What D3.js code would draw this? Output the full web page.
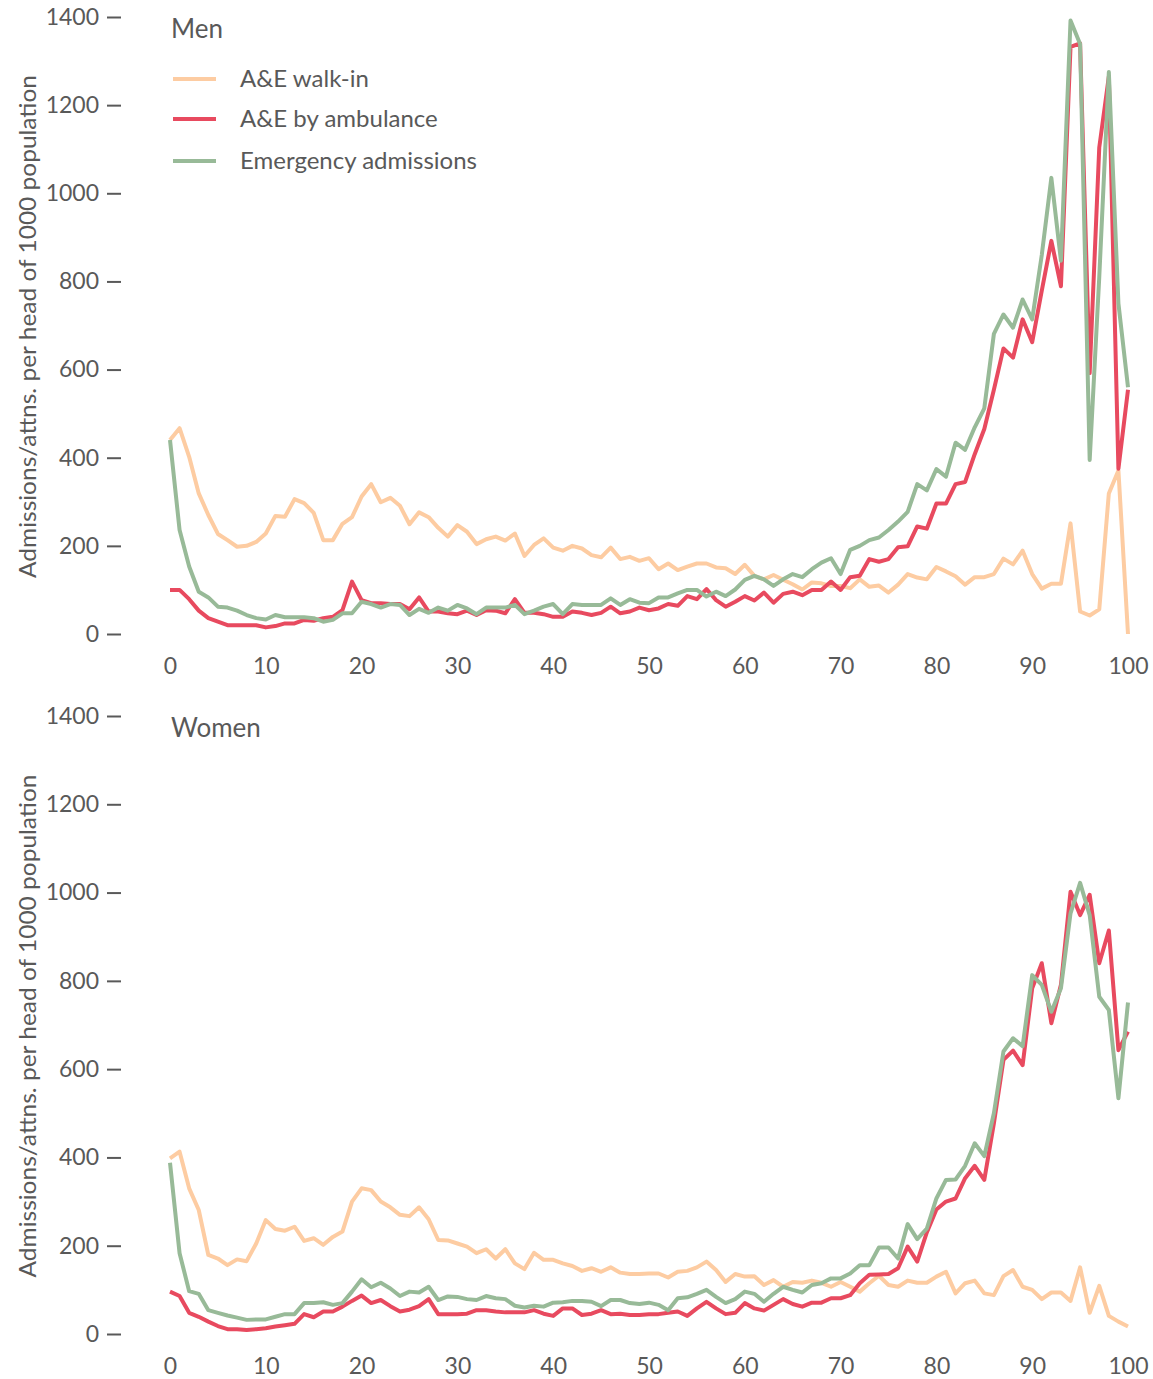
<!DOCTYPE html>
<html>
<head>
<meta charset="utf-8">
<script src="https://cdn.jsdelivr.net/npm/d3@7"></script>
<style>
  html, body { margin: 0; padding: 0; background: #ffffff; }
  svg { display: block; }
  text { font-family: Lato, "Open Sans", sans-serif; fill: #595959; }
</style>
</head>
<body>
<script>
// Ages 0..100
const ages = d3.range(0, 101);

const seriesNames = ["A&E walk-in", "A&E by ambulance", "Emergency admissions"];
const panelTitles = ["Men", "Women"];
const yTicks = [0, 200, 400, 600, 800, 1000, 1200, 1400];
const xTicks = [0, 10, 20, 30, 40, 50, 60, 70, 80, 90, 100];
const yTitle = "Admissions/attns. per head of 1000 population";

// Men: rates per 1000 population by single year of age
const menWalkIn = [440,467,402,319,270,227,213,198,200,209,228,268,266,306,297,275,213,213,250,265,
  312,340,299,309,291,249,276,265,241,221,247,232,204,215,221,212,228,177,202,217,
  196,189,200,194,179,174,196,170,175,166,172,147,160,145,153,160,160,151,149,136,
  157,132,124,134,123,113,101,117,115,109,109,104,124,107,110,94,112,136,128,124,
  152,142,131,112,129,129,136,171,158,189,136,103,114,114,251,51,42,56,319,371,0];
const menAmbulance = [100,100,79,53,36,28,20,20,20,20,15,18,24,24,32,30,36,39,54,119,
  77,70,70,68,68,56,83,51,51,47,45,53,43,54,53,47,79,48,48,45,
  39,39,51,48,43,48,62,47,51,60,54,58,68,64,86,79,102,77,62,73,
  86,76,94,71,91,96,88,100,100,119,100,129,132,170,164,170,197,199,244,239,
  296,296,340,345,408,465,554,648,627,714,662,779,892,789,1332,1340,592,1104,1265,375,554];
const menAdmissions = [440,236,153,96,83,62,60,53,43,36,33,43,38,38,38,36,28,32,47,47,
  73,68,60,68,66,43,57,48,60,53,66,58,45,60,60,60,66,45,53,62,
  68,45,68,66,66,66,81,66,79,71,70,83,83,92,100,100,85,96,86,101,
  123,132,124,109,124,136,129,147,162,172,136,191,200,213,219,236,255,277,340,326,
  374,357,434,418,469,512,681,725,695,759,714,860,1035,847,1392,1339,395,810,1275,750,560];

// Women: rates per 1000 population by single year of age
const womenWalkIn = [398,413,330,281,179,171,156,169,165,205,258,238,234,243,211,217,202,220,232,300,
  330,326,300,287,270,267,287,260,213,212,205,198,183,192,171,192,160,147,184,168,
  168,160,154,143,149,141,151,139,136,136,137,137,128,141,143,151,164,145,118,136,
  130,131,111,122,107,118,116,121,116,107,118,107,96,115,132,111,107,121,116,116,
  130,141,92,115,121,92,88,131,145,107,100,79,94,94,75,151,48,109,41,28,17];
const womenAmbulance = [96,86,48,39,28,18,11,11,9,11,13,17,20,23,45,38,51,51,62,75,
  87,70,77,63,51,55,63,79,45,45,45,46,54,54,51,49,49,49,54,46,
  41,58,58,43,46,54,45,46,43,43,45,45,48,51,41,58,73,58,45,48,
  70,58,53,66,79,68,62,71,71,81,81,88,115,134,135,136,149,198,164,230,
  282,300,307,353,381,349,477,621,642,609,783,840,704,791,1002,949,995,840,914,643,685];
const womenAdmissions = [388,183,97,91,54,48,42,37,32,33,33,39,45,45,70,70,72,66,70,96,
  124,106,116,103,86,96,94,107,77,85,84,79,77,86,81,79,64,60,64,62,
  71,72,75,75,73,63,77,77,70,68,71,66,54,81,83,91,100,84,70,79,
  96,91,73,91,107,100,94,111,115,126,126,137,156,156,196,196,171,249,215,239,
  307,349,350,381,432,403,500,640,670,652,813,791,730,783,953,1022,949,764,734,534,751];

const colors = ["#FDCCA2", "#E84A5F", "#98BA98"];

const panels = [
  { title: panelTitles[0], series: [menWalkIn, menAmbulance, menAdmissions], top: 17, bottom: 634, legend: true },
  { title: panelTitles[1], series: [womenWalkIn, womenAmbulance, womenAdmissions], top: 716, bottom: 1334, legend: false }
];

const W = 1153, H = 1379;
const svg = d3.select("body").append("svg").attr("width", W).attr("height", H);

const x = d3.scaleLinear().domain([0, 100]).range([170, 1128]);

panels.forEach(p => {
  const y = d3.scaleLinear().domain([0, 1400]).range([p.bottom, p.top]);
  const g = svg.append("g");

  // y axis: labels with a short dash to their right
  const yAxis = g.append("g")
    .attr("transform", "translate(121,0)")
    .call(d3.axisLeft(y).tickValues(yTicks).tickSize(14).tickPadding(8).tickFormat(d3.format("d")));
  yAxis.select(".domain").remove();
  yAxis.selectAll(".tick line").attr("stroke", "#595959").attr("stroke-width", 2);
  yAxis.selectAll(".tick text").attr("font-size", 23).attr("fill", "#595959")
    .style("font-family", "Lato, sans-serif");

  // x axis: labels only
  const xAxis = g.append("g")
    .attr("transform", `translate(0,${p.bottom})`)
    .call(d3.axisBottom(x).tickValues(xTicks).tickSize(0).tickPadding(24));
  xAxis.select(".domain").remove();
  xAxis.selectAll(".tick text").attr("font-size", 23).attr("fill", "#595959")
    .style("font-family", "Lato, sans-serif");

  // y axis title
  g.append("text")
    .attr("transform", `translate(36,${(p.top + p.bottom) / 2 + 1}) rotate(-90)`)
    .attr("text-anchor", "middle")
    .attr("font-size", 24)
    .attr("textLength", 503)
    .attr("lengthAdjust", "spacingAndGlyphs")
    .text(yTitle);

  // panel title
  g.append("text")
    .attr("x", 171)
    .attr("y", p.top + 21)
    .attr("font-size", 26)
    .text(p.title);

  // series lines
  const line = d3.line().x((d, i) => x(ages[i])).y(d => y(d));
  p.series.forEach((s, k) => {
    g.append("path")
      .datum(s)
      .attr("d", line)
      .attr("fill", "none")
      .attr("stroke", colors[k])
      .attr("stroke-width", 4)
      .attr("stroke-linejoin", "round")
      .attr("stroke-linecap", "butt");
  });

  if (p.legend) {
    const lg = g.append("g");
    const rows = [79, 119, 161];
    seriesNames.forEach((name, k) => {
      lg.append("line")
        .attr("x1", 173).attr("x2", 216)
        .attr("y1", rows[k]).attr("y2", rows[k])
        .attr("stroke", colors[k]).attr("stroke-width", 4);
      lg.append("text")
        .attr("x", 240).attr("y", rows[k])
        .attr("dy", "0.35em")
        .attr("font-size", 24)
        .text(name);
    });
  }
});
</script>
</body>
</html>
